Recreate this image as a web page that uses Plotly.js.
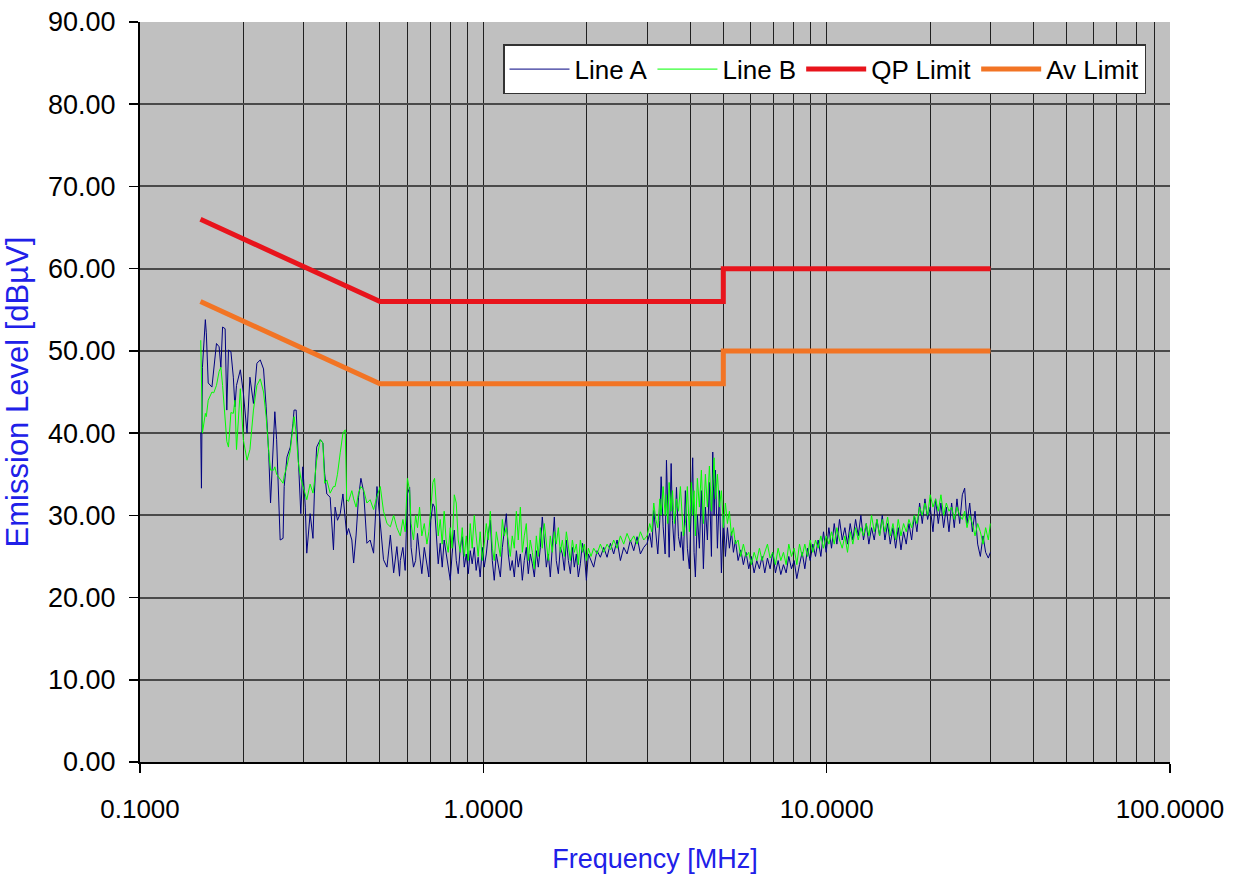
<!DOCTYPE html>
<html>
<head>
<meta charset="utf-8">
<script src="https://cdn.plot.ly/plotly-3.0.1.min.js"></script>
<style>html,body{margin:0;padding:0;background:#fff;}#chart{width:1233px;height:881px;}</style>
</head>
<body>
<div id="chart"></div>
<script>
// Frequencies in MHz (shared by Line A and Line B)
const freqLow = [0.1503,0.151,0.152,0.155,0.156,0.158,0.162,0.164,0.167,0.170,0.172,0.174,0.177,0.179,0.181,0.184,0.187,0.189,0.191,0.196,0.200,0.205,0.209,0.214,0.219,0.224,0.229,0.233,0.237,0.240,0.245,0.247,0.250,0.256,0.261,0.263,0.268,0.274,0.279,0.281,0.285,0.289,0.294,0.298,0.303,0.306,0.313,0.319,0.322,0.327,0.335,0.341,0.345,0.350,0.358,0.366,0.370,0.376,0.383,0.390,0.396,0.400,0.405,0.414,0.419,0.426,0.433,0.440,0.448,0.458,0.468,0.479,0.490,0.501,0.512,0.524,0.536,0.548,0.560,0.570];
const freqMid = [0.573,0.583,0.592,0.601,0.610,0.616,0.626,0.635,0.643,0.652,0.662,0.673,0.685,0.694,0.703,0.713,0.721,0.729,0.739,0.749,0.759,0.769,0.779,0.790,0.801,0.811,0.823,0.834,0.845,0.857,0.868,0.880,0.892,0.904,0.916,0.928,0.941,0.953,0.966,0.979,0.993,1.006,1.020,1.034,1.048,1.062,1.076,1.091,1.106,1.121,1.136,1.151,1.167,1.182,1.198,1.214,1.231,1.248,1.264,1.282,1.299,1.316,1.334,1.352,1.370,1.389,1.408,1.427,1.446,1.466,1.485,1.505,1.526,1.546,1.567,1.588,1.610,1.631,1.654,1.676,1.699,1.722,1.745,1.769,1.793,1.817,1.841,1.866,1.891,1.917,1.943,1.969,1.996,2.023,2.059,2.096,2.144,2.192,2.242,2.293,2.345,2.397,2.452,2.507,2.564,2.622,2.681,2.742,2.804,2.867,2.932,2.999,3.053,3.095,3.136,3.179,3.222,3.266,3.295,3.340,3.385,3.415,3.446,3.477,3.524,3.555,3.602,3.652,3.701,3.750];
const freqHigh = [3.774,3.825,3.877,3.929,3.982,4.036,4.072,4.109,4.146,4.202,4.259,4.316,4.375,4.434,4.494,4.555,4.617,4.658,4.700,4.742,4.806,4.871,4.937,5.004,5.071,5.140,5.209,5.280,5.351,5.424,5.521,5.620,5.721,5.823,5.930,6.035,6.147,6.257,6.370,6.485,6.603,6.722,6.843,6.966,7.093,7.222,7.352,7.485,7.620,7.758,7.897,8.040,8.185,8.334,8.485,8.637,8.794,8.953,9.114,9.279,9.446,9.617,9.790,9.967,10.15,10.33,10.52,10.71,10.90,11.10,11.30,11.50,11.71,11.92,12.14,12.36,12.58,12.80,13.04,13.27,13.51,13.76,14.01,14.26,14.52,14.78,15.05,15.32,15.60,15.88,16.16,16.46,16.75,17.05,17.36,17.68,18.00,18.32,18.65,18.99,19.33,19.68,20.03,20.40,20.76,21.14,21.52,21.91,22.31,22.71,23.12,23.53,23.96,24.40,24.84,25.23,25.63,26.10,26.57,27.05,27.53,28.03,28.54,29.04,29.57,29.97];

// Line A levels [dBuV]
const lineALow = [40.0,33.3,48.0,53.8,52.2,46.1,45.6,48.0,50.9,50.5,48.0,52.9,52.7,42.8,50.1,49.9,46.8,43.2,45.8,47.7,44.9,40.0,46.8,43.6,48.5,48.9,47.8,43.2,37.6,31.5,40.0,42.6,39.2,27.0,27.2,33.5,37.1,38.3,41.2,42.8,42.8,36.7,30.2,35.9,31.0,25.4,30.2,27.2,32.6,38.3,39.2,38.8,35.1,32.6,32.2,25.8,31.0,29.4,30.2,32.6,29.4,27.6,28.4,27.0,24.2,27.6,32.2,34.5,32.9,26.6,27.0,25.4,33.5,29.4,24.6,23.7,27.6,23.0,26.2,22.6];
const lineAMid = [24.5,26.1,23.3,32.6,33.4,26.1,23.7,24.5,27.8,25.3,22.9,26.1,24.1,22.5,29.4,31.4,31.0,28.2,24.1,26.6,23.7,27.0,25.3,24.1,22.1,25.3,28.2,24.5,22.9,26.1,27.4,23.7,25.3,22.9,25.7,24.1,26.1,23.3,24.9,22.5,26.1,23.7,25.3,27.8,29.4,24.5,22.1,25.3,23.7,22.5,26.1,28.2,30.2,25.3,23.3,24.5,22.5,25.7,23.7,25.3,22.1,24.5,26.1,22.9,25.3,24.1,22.5,25.7,23.7,26.1,29.8,27.0,23.7,25.3,22.5,26.1,29.8,24.5,22.9,26.1,25.3,23.3,27.0,24.5,22.9,26.1,23.7,25.3,22.5,24.1,26.6,25.3,22.1,25.3,24.5,23.7,25.7,24.9,26.1,24.9,26.6,25.3,27.0,24.5,26.1,25.3,27.0,25.7,27.4,25.3,26.1,26.6,27.8,26.1,30.6,28.2,25.3,29.4,34.7,28.6,25.3,36.7,31.4,24.9,36.3,29.4,25.7,33.4,27.4,26.1];
const lineAHigh = [28.0,24.5,33.0,26.0,23.5,31.5,37.0,25.5,22.5,30.0,26.0,33.0,23.5,31.0,27.0,34.0,25.0,37.7,30.0,35.5,26.0,33.0,23.0,30.0,25.0,28.5,26.0,28.0,25.5,27.0,24.5,25.8,24.0,25.5,23.5,25.0,23.0,24.5,23.5,25.0,23.0,24.8,23.5,25.5,23.0,24.5,22.8,24.0,23.0,25.0,23.5,24.5,22.3,24.0,25.5,23.5,26.0,24.5,26.5,25.0,27.0,25.0,28.0,25.5,28.5,26.0,29.0,26.5,29.5,27.0,28.5,26.5,29.0,27.0,29.5,27.5,30.0,27.0,29.0,26.5,28.5,27.0,29.5,27.5,30.0,27.0,29.0,26.5,28.5,26.0,28.5,25.8,28.0,26.5,29.0,27.0,30.0,28.0,31.5,29.0,32.0,29.5,31.0,28.0,32.0,29.0,31.5,28.5,31.0,28.0,31.5,28.5,32.0,29.0,32.5,33.3,29.0,31.5,28.0,30.5,26.5,25.0,27.5,25.5,24.8,25.5];

// Line B levels [dBuV]
const lineBLow = [51.3,45.0,40.0,42.4,42.0,44.0,45.0,44.9,45.8,47.5,48.0,45.8,41.6,39.0,38.3,42.5,42.4,44.0,38.0,45.4,39.2,36.7,38.0,42.8,45.8,46.6,45.0,42.0,37.9,35.5,35.5,35.9,35.0,34.3,33.9,34.8,36.0,37.9,40.5,42.0,40.0,36.5,34.5,33.5,32.5,31.9,33.8,32.7,34.0,36.7,39.2,38.8,33.9,34.3,32.7,33.5,33.5,35.0,37.6,40.0,40.4,31.9,31.7,33.0,32.0,31.0,32.7,33.5,33.1,31.5,31.9,30.7,32.3,33.5,30.5,29.0,28.6,30.0,28.5,27.8];
const lineBMid = [27.5,29.5,28.0,34.5,33.0,29.0,27.0,30.0,28.5,31.0,27.5,29.0,26.5,28.0,31.0,34.0,34.5,31.0,27.5,29.5,26.5,30.5,27.0,25.5,28.5,26.0,32.5,31.5,27.0,25.5,28.5,25.0,27.5,24.5,29.0,26.0,30.0,27.5,25.0,28.0,24.5,26.5,29.0,27.0,30.5,26.0,24.5,28.0,26.5,25.0,29.5,27.5,28.5,26.5,25.0,27.5,26.0,30.5,27.0,31.0,25.5,27.5,29.0,24.5,27.0,25.5,23.5,27.5,25.0,28.5,26.0,29.0,26.5,24.5,27.5,25.5,28.0,26.5,28.5,25.5,27.0,25.0,28.0,26.5,24.5,27.0,25.5,26.5,24.0,27.0,25.5,26.5,24.5,26.0,25.0,26.0,25.3,26.5,25.5,26.5,25.8,27.0,26.0,27.5,26.5,27.8,26.8,27.5,26.5,28.0,27.0,27.5,29.0,28.0,31.5,29.5,28.5,32.0,30.0,33.5,30.0,32.5,29.0,34.0,30.5,33.0,29.0,32.0,30.5,33.5];
const lineBHigh = [31.0,27.5,29.0,33.5,28.0,34.0,30.0,33.0,27.5,34.5,31.0,35.5,29.0,35.0,31.0,36.0,30.5,34.0,37.0,32.0,35.0,31.0,33.0,28.5,31.5,29.0,30.5,27.5,28.5,26.5,27.0,25.0,26.5,25.0,25.5,24.0,25.5,24.5,26.0,24.5,25.5,26.5,24.8,25.5,24.0,26.0,24.5,25.5,24.0,26.5,25.0,26.0,24.0,26.5,25.0,26.5,25.0,27.0,25.5,27.0,26.0,27.5,26.0,27.5,26.5,28.0,26.5,28.5,27.0,26.0,27.5,25.5,28.0,26.5,28.5,27.0,28.5,27.5,29.0,27.5,30.0,28.0,29.5,27.5,29.5,28.0,29.8,27.5,29.0,27.0,29.5,27.5,29.0,28.0,29.5,28.5,30.0,29.0,31.0,30.0,31.5,30.0,32.5,31.0,32.0,30.5,32.5,30.0,31.5,30.5,31.0,29.5,31.0,30.0,29.5,30.5,28.5,30.0,29.0,27.5,29.0,28.0,26.5,28.5,27.0,29.0];

// Limits
const limitFreq = [0.15, 0.5, 5, 5, 30];
const qpLimit = [66, 56, 56, 60, 60];
const avLimit = [56, 46, 46, 50, 50];

// Axis ticks
const xTickVals = [0.1, 1, 10, 100];
const xTickText = ['0.1000', '1.0000', '10.0000', '100.0000'];
const xMinorVals = [0.2,0.3,0.4,0.5,0.6,0.7,0.8,0.9,2,3,4,5,6,7,8,9,20,30,40,50,60,70,80,90];

const freq = freqLow.concat(freqMid, freqHigh);
const lineA = lineALow.concat(lineAMid, lineAHigh);
const lineB = lineBLow.concat(lineBMid, lineBHigh);

const FONT = 'Liberation Sans, Arial, sans-serif';

const traces = [
  {x: freq, y: lineA, name: 'Line A', type: 'scatter', mode: 'lines',
   line: {color: '#000080', width: 1}},
  {x: freq, y: lineB, name: 'Line B', type: 'scatter', mode: 'lines',
   line: {color: '#00ff00', width: 1}},
  {x: limitFreq, y: qpLimit, name: 'QP Limit', type: 'scatter', mode: 'lines',
   line: {color: '#e8141c', width: 5}},
  {x: limitFreq, y: avLimit, name: 'Av Limit', type: 'scatter', mode: 'lines',
   line: {color: '#f27424', width: 5}}
];

const layout = {
  width: 1233, height: 881,
  margin: {l: 140, r: 63, t: 22, b: 119},
  paper_bgcolor: '#ffffff',
  plot_bgcolor: '#c0c0c0',
  font: {family: FONT, size: 26, color: '#000'},
  showlegend: true,
  legend: {
    orientation: 'h', x: 0.9767, xanchor: 'right', y: 0.970, yanchor: 'top',
    bgcolor: '#ffffff', bordercolor: '#333333', borderwidth: 1.5,
    font: {family: FONT, size: 26, color: '#000'},
    itemwidth: 60, tracegroupgap: 0
  },
  xaxis: {
    type: 'log', range: [-1, 2],
    tickvals: xTickVals, ticktext: xTickText,
    ticks: 'outside', ticklen: 9, tickwidth: 1.5, tickcolor: '#000',
    ticklabelstandoff: 14,
    showline: true, linecolor: '#000', linewidth: 2,
    showgrid: true, gridcolor: '#202020', gridwidth: 1,
    minor: {tickvals: xMinorVals, showgrid: true, gridcolor: '#202020', gridwidth: 1, ticks: ''},
    zeroline: false,
    tickfont: {family: FONT, size: 26, color: '#000'},
    title: {text: 'Frequency [MHz]', font: {family: FONT, size: 27, color: '#2020e8'}, standoff: 26}
  },
  yaxis: {
    range: [0, 90], dtick: 10, tick0: 0, tickformat: '.2f',
    ticks: 'outside', ticklen: 9, tickwidth: 1.5, tickcolor: '#000',
    ticklabelstandoff: 8,
    showline: true, linecolor: '#000', linewidth: 2,
    showgrid: true, gridcolor: '#4a4a4a', gridwidth: 2,
    zeroline: false,
    tickfont: {family: FONT, size: 27, color: '#000'},
    title: {text: 'Emission Level [dBµV]', font: {family: FONT, size: 31, color: '#2020e8'}, standoff: 10}
  }
};

Plotly.newPlot('chart', traces, layout, {staticPlot: true, displayModeBar: false});
</script>
</body>
</html>
